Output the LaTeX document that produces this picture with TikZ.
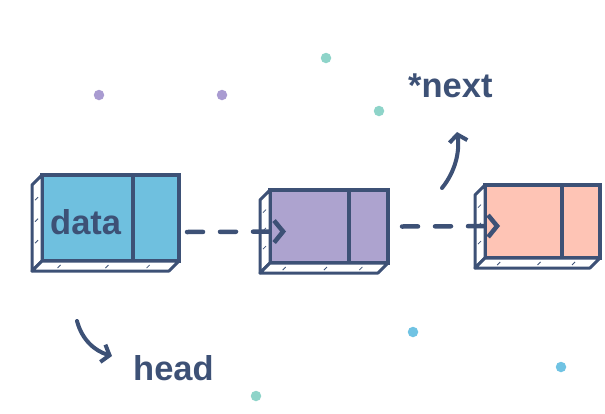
\documentclass[tikz,border=0pt]{standalone}
\usepackage{fontspec}
\setmainfont{Liberation Sans}
\usetikzlibrary{arrows.meta,calc}
\definecolor{ink}{HTML}{3D5176}
\definecolor{fblue}{HTML}{6FC0DF}
\definecolor{fpurple}{HTML}{ADA3CF}
\definecolor{fpink}{HTML}{FEC4B5}
\definecolor{dpurple}{HTML}{A99BD1}
\definecolor{dteal}{HTML}{8ED4C9}
\definecolor{dblue}{HTML}{70C3E3}
\tikzset{
  cellbox/.style={draw=ink, line width=4.5pt, rectangle, outer sep=0pt, inner sep=0pt},
  face/.style={draw=ink, line width=3pt, fill=white, line join=round},
  hatch/.style={draw=ink, line width=0.8pt},
  divider/.style={draw=ink, line width=3.5pt},
  lbl/.style={text=ink, font=\bfseries\fontsize{34.5}{41}\selectfont, inner sep=0pt},
  link/.style={draw=ink, line width=4.5pt, line cap=round, dash pattern=on 16pt off 17pt,
    -{Straight Barb[length=9pt,width=22pt,line width=4.5pt]}},
  curvy/.style={draw=ink, line width=4pt, line cap=round,
    -{Straight Barb[length=7pt,width=18pt,line width=4pt]}},
  dot/.style={circle, inner sep=0pt, minimum size=10.5pt},
}
\newcommand{\sidefaces}[1]{%
  \draw[face] (#1.north west) -- ++(-10,10) -- ($(#1.south west)+(-10,10)$) -- (#1.south west) -- cycle;
  \draw[face] (#1.south west) -- ++(-10,10) -- ($(#1.south east)+(-10,10)$) -- (#1.south east) -- cycle;
  \foreach \t in {0.2,0.45,0.7}{
    \draw[hatch] ($(#1.north west)!\t!(#1.south west)+(-7,8)$) -- ++(3,-3);
  }
  \foreach \t in {0.15,0.5,0.8}{
    \draw[hatch] ($(#1.south west)!\t!(#1.south east)+(-5,7)$) -- ++(3,-3);
  }
}
\begin{document}
\begin{tikzpicture}[x=1pt,y=-1pt]
\useasboundingbox (0,0) rectangle (605,413);
% dots
\node[dot, fill=dpurple] (d1) at (99,95) {};
\node[dot, fill=dpurple] (d2) at (222,95) {};
\node[dot, fill=dteal] (d3) at (326,58) {};
\node[dot, fill=dteal] (d4) at (379,111) {};
\node[dot, fill=dblue] (d5) at (413,332) {};
\node[dot, fill=dblue] (d6) at (561,367) {};
\node[dot, fill=dteal] (d7) at (256,396) {};
% boxes
\node[cellbox, fill=fblue, minimum width=137pt, minimum height=86pt] (b1) at (110.5,218) {};
\node[cellbox, fill=fpurple, minimum width=118pt, minimum height=73pt] (b2) at (329,226.5) {};
\node[cellbox, fill=fpink, minimum width=115pt, minimum height=73pt] (b3) at (542.5,221.5) {};
\sidefaces{b1}
\sidefaces{b2}
\sidefaces{b3}
\draw[divider] ([xshift=91pt]b1.north west) -- ([xshift=91pt]b1.south west);
\draw[divider] ([xshift=79pt]b2.north west) -- ([xshift=79pt]b2.south west);
\draw[divider] ([xshift=77pt]b3.north west) -- ([xshift=77pt]b3.south west);
\node[lbl, anchor=base west] (data) at (50,234) {data};
% links
\draw[link] ($(b1.east)+(8,14)$) -- ($(b2.west)+(16,5)$);
\draw[link] ($(b2.east)+(14,0)$) -- ($(b3.west)+(15,4.5)$);
% labels
\node[lbl, anchor=base west] (next) at (408,97) {*next};
\node[lbl, anchor=base west] (head) at (133,380) {head};
\coordinate (ns) at (442,188);
\coordinate (ne) at (457,132);
\draw[curvy] (ns) .. controls (455,172) and (460,152) .. (ne);
\coordinate (hs) at (77,321);
\coordinate (he) at (112,356);
\draw[curvy] (hs) .. controls (82,340) and (95,351) .. (he);
\end{tikzpicture}
\end{document}
